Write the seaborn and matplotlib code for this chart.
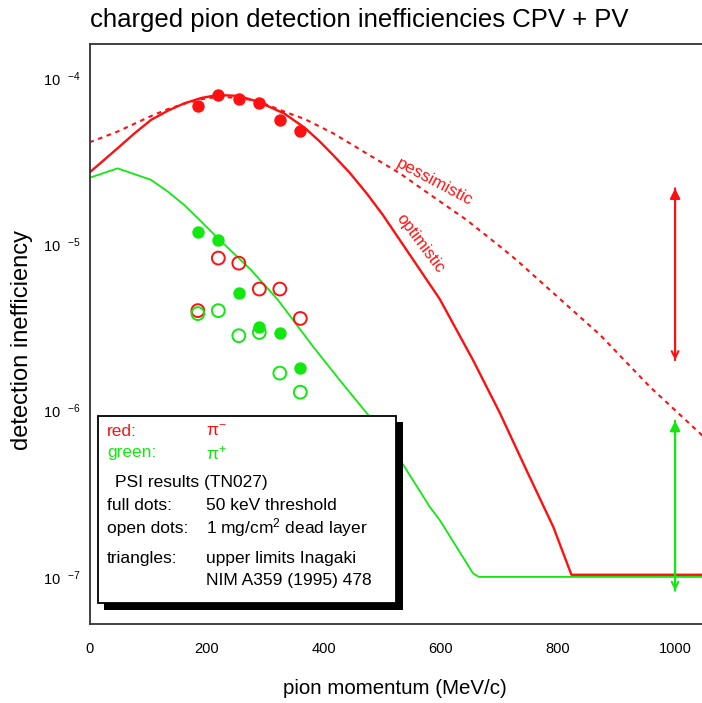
import matplotlib
matplotlib.use("Agg")
import matplotlib.pyplot as plt
import seaborn as sns
from matplotlib.patches import Rectangle

RED = "#ff1010"
GREEN = "#10e810"

# PSI results (TN027), pion momentum in MeV/c
mom = [185, 220, 255, 290, 325, 360]
red_full = [6.8e-5, 7.85e-5, 7.5e-5, 7.05e-5, 5.55e-5, 4.8e-5]
green_full = [1.19e-5, 1.06e-5, 5.1e-6, 3.2e-6, 2.94e-6, 1.8e-6]
red_open = [3.99e-6, 8.26e-6, 7.7e-6, 5.38e-6, 5.38e-6, 3.58e-6]
green_open = [3.83e-6, 3.99e-6, 2.82e-6, 2.95e-6, 1.68e-6, 1.29e-6]

# red "optimistic" curve
opt_p = [0, 48, 77, 105, 134, 162, 191, 219, 254, 288, 333, 368, 392, 416, 444, 473, 501, 530,
         598, 655, 701, 746, 792, 823, 1050]
opt_e = [2.7e-5, 3.78e-5, 4.65e-5, 5.59e-5, 6.36e-5, 7.04e-5, 7.58e-5, 7.9e-5, 7.8e-5, 7.2e-5,
         6.1e-5, 5.0e-5, 4.19e-5, 3.44e-5, 2.7e-5, 2.03e-5, 1.5e-5, 1.06e-5,
         4.69e-6, 2.01e-6, 9.64e-7, 4.4e-7, 2.0e-7, 1.03e-7, 1.03e-7]

# red "pessimistic" curve
pes_p = [0, 48, 105, 134, 162, 191, 219, 254, 288, 333, 368, 416, 473, 530, 587, 644, 701, 729,
         872, 957, 1050]
pes_e = [4.1e-5, 4.76e-5, 5.9e-5, 6.5e-5, 7.0e-5, 7.45e-5, 7.7e-5, 7.6e-5, 7.25e-5, 6.27e-5,
         5.65e-5, 4.65e-5, 3.52e-5, 2.67e-5, 1.93e-5, 1.40e-5, 9.7e-6, 8.05e-6,
         2.85e-6, 1.39e-6, 6.9e-7]

# green curve
grn_p = [0, 48, 105, 134, 162, 188, 219, 276, 322, 382, 427, 476, 536, 581, 598, 655, 665, 1050]
grn_e = [2.51e-5, 2.86e-5, 2.44e-5, 2.07e-5, 1.72e-5, 1.40e-5, 1.09e-5, 7.0e-6, 4.62e-6,
         2.42e-6, 1.53e-6, 9.4e-7, 4.71e-7, 2.64e-7, 2.2e-7, 1.05e-7, 1.0e-7, 1.0e-7]

# Inagaki upper limits (arrows at 1000 MeV/c)
arrow_p = 1000
red_arrow = [2.17e-5, 2.01e-6]
green_arrow = [8.7e-7, 8.26e-8]

x_ticks = [0, 200, 400, 600, 800, 1000]
y_ticks = [1e-4, 1e-5, 1e-6, 1e-7]
y_tick_labels = ["10  $^{-4}$", "10  $^{-5}$", "10  $^{-6}$", "10  $^{-7}$"]

W, H = 702, 703


def fx(px):
    return px / W


def fy(py):
    return 1 - py / H


sns.set_style("white")
plt.rcParams["font.family"] = ["Liberation Sans", "DejaVu Sans"]
plt.rcParams["mathtext.fontset"] = "custom"
plt.rcParams["mathtext.rm"] = "Liberation Sans"
plt.rcParams["mathtext.it"] = "Liberation Sans"
plt.rcParams["mathtext.bf"] = "Liberation Sans:bold"
plt.rcParams["text.color"] = "black"
plt.rcParams["xtick.color"] = "black"
plt.rcParams["ytick.color"] = "black"

fig = plt.figure(figsize=(W / 100, H / 100), dpi=100)
ax = fig.add_axes([fx(89.5), fy(624), fx(W - 89.5), (624 - 44) / H])

sns.lineplot(x=opt_p, y=opt_e, ax=ax, color=RED, lw=1.7, sort=False, estimator=None)
sns.lineplot(x=pes_p, y=pes_e, ax=ax, color=RED, lw=1.5, sort=False, estimator=None,
             linestyle=(0, (2.2, 2.2)))
sns.lineplot(x=grn_p, y=grn_e, ax=ax, color=GREEN, lw=1.3, sort=False, estimator=None)

sns.scatterplot(x=mom, y=red_full, ax=ax, color=RED, s=80, edgecolor=RED, linewidth=0, zorder=5)
sns.scatterplot(x=mom, y=green_full, ax=ax, color=GREEN, s=80, edgecolor=GREEN, linewidth=0, zorder=5)
ax.scatter(mom, red_open, s=85, facecolors="none", edgecolors=RED, linewidths=1.4, zorder=5)
ax.scatter(mom, green_open, s=85, facecolors="none", edgecolors=GREEN, linewidths=1.4, zorder=5)

for col, (top, bot) in [(RED, red_arrow), (GREEN, green_arrow)]:
    ax.annotate("", xy=(arrow_p, top), xytext=(arrow_p, bot),
                arrowprops=dict(arrowstyle="-|>", color=col, lw=1.5, mutation_scale=15,
                                shrinkA=0, shrinkB=0))
    ax.annotate("", xy=(arrow_p, bot), xytext=(arrow_p, top),
                arrowprops=dict(arrowstyle="->", color=col, lw=1.5, mutation_scale=12,
                                shrinkA=0, shrinkB=0))

ax.text(590, 2.37e-5, "pessimistic", color=RED, fontsize=12.3, rotation=-28,
        ha="center", va="center", rotation_mode="anchor")
ax.text(564, 1.02e-5, "optimistic", color=RED, fontsize=12, rotation=-53,
        ha="center", va="center", rotation_mode="anchor")

ax.set_yscale("log")
ax.set_xlim(0, 1046)
ax.set_ylim(5.21e-8, 1.6e-4)
ax.set_xticks(x_ticks)
ax.set_xticklabels([str(t) for t in x_ticks])
ax.set_yticks(y_ticks)
ax.set_yticklabels(y_tick_labels)
ax.yaxis.set_minor_locator(matplotlib.ticker.NullLocator())
ax.tick_params(axis="x", which="major", direction="out", length=7, width=1.2,
               color="#333333", labelsize=10.5, pad=6)
ax.tick_params(axis="y", which="major", length=0, labelsize=10.5, pad=6)
ax.set_xlabel("")
ax.set_ylabel("")
for side in ["left", "bottom", "top"]:
    ax.spines[side].set_color("#333333")
    ax.spines[side].set_linewidth(1.3)
ax.spines["right"].set_visible(False)

fig.text(fx(90), fy(20), "charged pion detection inefficiencies CPV + PV",
         fontsize=18.5, ha="left", va="center")
fig.text(fx(22), fy(340), "detection inefficiency", fontsize=17,
         rotation=90, ha="center", va="center")
fig.text(fx(395), fy(689), "pion momentum (MeV/c)", fontsize=14.8,
         ha="center", va="center")

# legend box with drop shadow
fig.patches.append(Rectangle((fx(104), fy(610)), (403 - 104) / W, (610 - 422) / H,
                             transform=fig.transFigure, facecolor="black",
                             edgecolor="none", zorder=10))
fig.patches.append(Rectangle((fx(98), fy(603)), (396 - 98) / W, (603 - 416) / H,
                             transform=fig.transFigure, facecolor="white",
                             edgecolor="black", lw=1.3, zorder=11))

leg_rows = [
    (107, 431, "red:", RED),
    (206, 431, "π$^{-}$", RED),
    (107, 453, "green:", GREEN),
    (206, 453, "π$^{+}$", GREEN),
    (115, 482, "PSI results (TN027)", "black"),
    (107, 506, "full dots:", "black"),
    (206, 506, "50 keV threshold", "black"),
    (107, 528, "open dots:", "black"),
    (206, 528, "1 mg/cm$^{2}$ dead layer", "black"),
    (107, 558, "triangles:", "black"),
    (206, 558, "upper limits Inagaki", "black"),
    (206, 581, "NIM A359 (1995) 478", "black"),
]
for px, py, txt, col in leg_rows:
    fig.text(fx(px), fy(py), txt, color=col, fontsize=12.5, ha="left", va="center", zorder=12)

fig.savefig("out.png", dpi=100)
